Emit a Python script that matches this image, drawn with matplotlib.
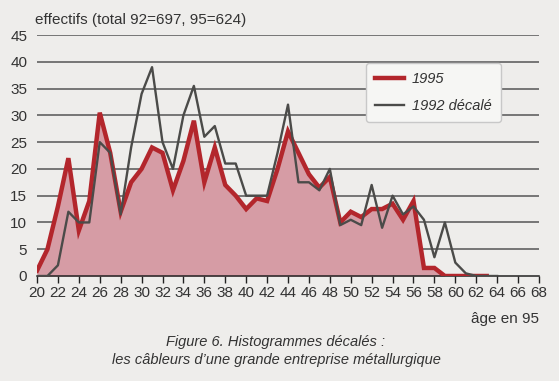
import numpy as np
import matplotlib
matplotlib.use("Agg")
import matplotlib.pyplot as plt

# ages (age in 1995)
ages_95 = np.arange(20, 64)
ages_92 = np.arange(20, 65)

# 1995 counts
eff_95 = [1, 5, 13, 22, 8.5, 14, 30.5, 23, 12, 17.5,
          20, 24, 23, 16, 21.5, 29, 17.5, 24, 17, 15,
          12.5, 14.5, 14, 20, 27, 23, 19, 16.5, 18.5, 10,
          12, 11, 12.5, 12.5, 13.5, 10.5, 14, 1.5, 1.5, 0,
          0, 0, 0, 0]

# 1992 counts shifted by 3 years
eff_92 = [0, 0, 2, 12, 10, 10, 25, 23, 11.5, 24,
          34, 39, 25, 20, 30, 35.5, 26, 28, 21, 21,
          15, 15, 15, 23, 32, 17.5, 17.5, 16, 20, 9.5,
          10.5, 9.5, 17, 9, 15, 11.5, 13, 10.5, 3.5, 10,
          2.5, 0.5, 0, 0, 0]

xticks = np.arange(20, 69, 2)
yticks = np.arange(0, 46, 5)

plt.rcParams['font.family'] = ['Liberation Sans', 'DejaVu Sans']
bg = '#eeedeb'
txt = '#333333'

fig = plt.figure(figsize=(5.59, 3.81), dpi=100, facecolor=bg)
ax = fig.add_axes([0.0662, 0.2756, 0.898, 0.6325])
ax.set_facecolor(bg)

# grid
for y in yticks[1:]:
    ax.axhline(y, color='#555555', lw=1.1, zorder=1)

ax.fill_between(ages_95, eff_95, 0, color='#d69ca5', zorder=2, lw=0)
ax.plot(ages_95, eff_95, color='#b3262c', lw=3.2, label='1995', zorder=3,
        solid_joinstyle='miter')
ax.plot(ages_92, eff_92, color='#4b4b49', lw=1.7, label='1992 décalé', zorder=4)

ax.set_xlim(20, 68)
ax.set_ylim(0, 45)
ax.set_xticks(xticks)
ax.set_yticks(yticks)
ax.tick_params(axis='x', direction='out', length=5, width=1, colors='#222222',
               labelsize=11, labelcolor=txt, pad=2)
ax.tick_params(axis='y', length=0, labelsize=11, labelcolor=txt, pad=7)
for s in ['top', 'right', 'left']:
    ax.spines[s].set_visible(False)
ax.spines['bottom'].set_color('#222222')
ax.spines['bottom'].set_linewidth(1.1)

leg = ax.legend(loc='upper left', bbox_to_anchor=(0.655, 0.884),
                borderaxespad=0, prop={'style': 'italic', 'size': 10.5},
                handlelength=2.0, handletextpad=0.5,
                frameon=True, fancybox=True, borderpad=0.65, labelspacing=0.85)
leg.get_frame().set_facecolor('#f6f6f4')
leg.get_frame().set_edgecolor('#c8c8c8')
leg.get_frame().set_alpha(1)
for t in leg.get_texts():
    t.set_color(txt)

fig.text(35 / 559, 1 - 20 / 381, 'effectifs (total 92=697, 95=624)',
         fontsize=11, color=txt, ha='left', va='center')
fig.text(539 / 559, 1 - 319 / 381, 'âge en 95', fontsize=11, color=txt,
         ha='right', va='center')
fig.text(276 / 559, 1 - 342 / 381, 'Figure 6. Histogrammes décalés :',
         fontsize=10.5, style='italic', color=txt, ha='center', va='center')
fig.text(276 / 559, 1 - 360 / 381,
         'les câbleurs d\u2019une grande entreprise métallurgique',
         fontsize=10.5, style='italic', color=txt, ha='center', va='center')

fig.savefig('out.png', dpi=100, facecolor=bg)
